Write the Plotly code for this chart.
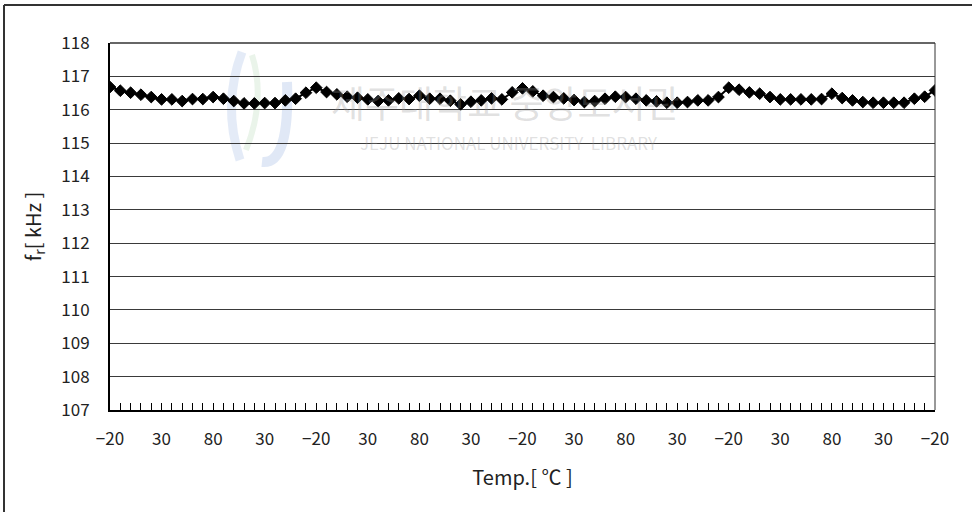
import plotly.graph_objects as go

# Temperature sequence (categories, °C) - cycles -20 -> 80 -> -20, four times
temps = [-20, -10, 0, 10, 20, 30, 40, 50, 60, 70, 80, 70, 60, 50, 40, 30, 20, 10, 0, -10,
         -20, -10, 0, 10, 20, 30, 40, 50, 60, 70, 80, 70, 60, 50, 40, 30, 20, 10, 0, -10,
         -20, -10, 0, 10, 20, 30, 40, 50, 60, 70, 80, 70, 60, 50, 40, 30, 20, 10, 0, -10,
         -20, -10, 0, 10, 20, 30, 40, 50, 60, 70, 80, 70, 60, 50, 40, 30, 20, 10, 0, -10,
         -20]

# Resonance frequency fr [kHz]
fr = [116.68, 116.57, 116.51, 116.45, 116.38, 116.31, 116.31, 116.26, 116.32, 116.32,
      116.38, 116.33, 116.26, 116.19, 116.19, 116.20, 116.20, 116.28, 116.33, 116.51,
      116.66, 116.53, 116.46, 116.39, 116.36, 116.31, 116.26, 116.28, 116.34, 116.32,
      116.42, 116.33, 116.33, 116.27, 116.16, 116.24, 116.28, 116.34, 116.31, 116.52,
      116.64, 116.55, 116.42, 116.38, 116.34, 116.29, 116.23, 116.26, 116.33, 116.39,
      116.38, 116.33, 116.28, 116.25, 116.21, 116.21, 116.23, 116.28, 116.28, 116.38,
      116.66, 116.60, 116.52, 116.48, 116.38, 116.31, 116.31, 116.31, 116.31, 116.32,
      116.48, 116.35, 116.28, 116.23, 116.21, 116.21, 116.21, 116.21, 116.33, 116.39,
      116.58]

y_ticks = [107, 108, 109, 110, 111, 112, 113, 114, 115, 116, 117, 118]

idx = list(range(len(temps)))
label_idx = [i for i, t in enumerate(temps) if (t - 30) % 50 == 0]
label_txt = [("\u2212%d" % -temps[i]) if temps[i] < 0 else str(temps[i]) for i in label_idx]

FONT = "Noto Sans CJK KR"

fig = go.Figure()
fig.add_trace(go.Scatter(
    x=idx, y=fr, mode="lines+markers",
    line=dict(color="black", width=2),
    marker=dict(symbol="diamond", size=9, color="black", line=dict(color="black", width=1)),
    showlegend=False, hoverinfo="skip",
))

W, H = 972, 512
L, R, T, B = 110, 37, 43, 102
pw, ph = W - L - R, H - T - B


def px(X):
    return (X - L) / pw


def py(Y):
    return 1 - (Y - T) / ph


fig.update_layout(
    width=W, height=H,
    margin=dict(l=L, r=R, t=T, b=B, pad=0),
    paper_bgcolor="white", plot_bgcolor="white",
    font=dict(family=FONT, color="#222", size=16),
    xaxis=dict(
        range=[0, len(temps) - 1],
        tickmode="array", tickvals=label_idx, ticktext=label_txt,
        ticks="inside", ticklen=7, tickcolor="black", tickwidth=1,
        minor=dict(tickmode="array", tickvals=idx, ticks="inside", ticklen=7,
                   tickcolor="black", tickwidth=1, showgrid=False),
        showgrid=False, zeroline=False,
        showline=True, linecolor="black", linewidth=2,
        tickfont=dict(size=17, family=FONT, color="#222"),
        title=dict(text="Temp.[ \u2103 ]", font=dict(size=20, family=FONT, color="#222"), standoff=22),
        ticklabelstandoff=13,
    ),
    yaxis=dict(
        range=[107, 118],
        tickmode="array", tickvals=y_ticks,
        ticks="", showgrid=True, gridcolor="#3a3a3a", gridwidth=1,
        zeroline=False, showline=True, linecolor="black", linewidth=2,
        tickfont=dict(size=17, family=FONT, color="#222"),
        ticklabelstandoff=15,
        title=dict(text="f<sub>r</sub>[ kHz ]", font=dict(size=20, family=FONT, color="#222"), standoff=14),
    ),
)

# plot-area frame (top and right)
fig.add_shape(type="line", xref="paper", yref="paper", x0=0, x1=1, y0=1, y1=1,
              line=dict(color="#333", width=1.5))
fig.add_shape(type="line", xref="paper", yref="paper", x0=1, x1=1, y0=0, y1=1,
              line=dict(color="#333", width=1))

# outer picture border (left and top visible)
fig.add_shape(type="line", xref="paper", yref="paper", x0=px(4), x1=px(4), y0=py(520), y1=py(5),
              line=dict(color="#333", width=2))
fig.add_shape(type="line", xref="paper", yref="paper", x0=px(4), x1=px(980), y0=py(5), y1=py(5),
              line=dict(color="#333", width=2))

# faint library watermark (logo + text)
def path(pts):
    s = "M %f %f" % (px(pts[0][0]), py(pts[0][1]))
    for i in range(1, len(pts) - 1, 2):
        s += " Q %f %f %f %f" % (px(pts[i][0]), py(pts[i][1]), px(pts[i + 1][0]), py(pts[i + 1][1]))
    return s


fig.add_shape(type="path", xref="paper", yref="paper", layer="below",
              path=path([(242, 52), (222, 105), (240, 160)]),
              line=dict(color="rgba(130,165,220,0.22)", width=9))
fig.add_shape(type="path", xref="paper", yref="paper", layer="below",
              path=path([(252, 55), (266, 100), (246, 150)]),
              line=dict(color="rgba(160,205,160,0.22)", width=6))
fig.add_shape(type="path", xref="paper", yref="paper", layer="below",
              path=path([(287, 82), (290, 165), (262, 162)]),
              line=dict(color="rgba(130,165,220,0.25)", width=10))

fig.add_annotation(xref="paper", yref="paper", x=px(505), y=py(102), xanchor="center", yanchor="middle",
                   text="제주대학교 중앙도서관", showarrow=False,
                   font=dict(size=37, family=FONT, color="rgba(150,150,150,0.30)"))
fig.add_annotation(xref="paper", yref="paper", x=px(509), y=py(142), xanchor="center", yanchor="middle",
                   text="JEJU NATIONAL UNIVERSITY  LIBRARY", showarrow=False,
                   font=dict(size=17, family=FONT, color="rgba(150,150,150,0.30)"))

fig.write_html("out.html", config={"displayModeBar": False},
               post_script="document.body.style.margin='0';document.body.style.overflow='hidden';")
